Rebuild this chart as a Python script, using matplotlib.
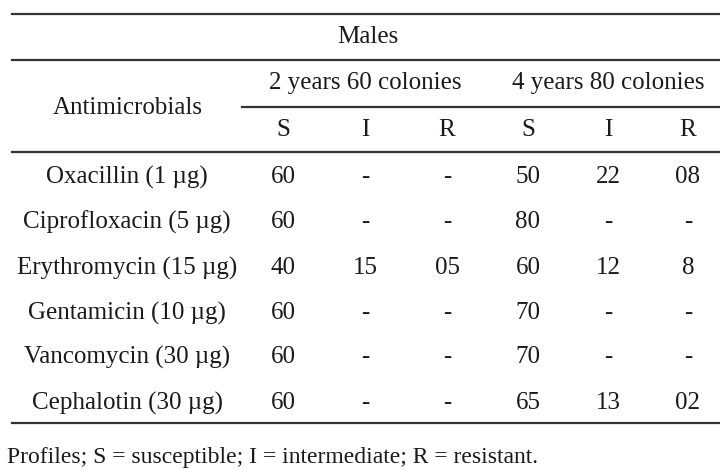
import matplotlib.pyplot as plt

plt.rcParams['font.family'] = ['Liberation Serif', 'DejaVu Serif']

group_title = "Males"
group_labels = ["2 years 60 colonies", "4 years 80 colonies"]
profiles = ["S", "I", "R"]
drugs = ["Oxacillin (1 \u00b5g)", "Ciprofloxacin (5 \u00b5g)", "Erythromycin (15 \u00b5g)",
         "Gentamicin (10 \u00b5g)", "Vancomycin (30 \u00b5g)", "Cephalotin (30 \u00b5g)"]
years2 = [["60", "-", "-"], ["60", "-", "-"], ["40", "15", "05"],
          ["60", "-", "-"], ["60", "-", "-"], ["60", "-", "-"]]
years4 = [["50", "22", "08"], ["80", "-", "-"], ["60", "12", "8"],
          ["70", "-", "-"], ["70", "-", "-"], ["65", "13", "02"]]
footnote = "Profiles; S = susceptible; I = intermediate; R = resistant."

fig = plt.figure(figsize=(7.2, 4.7), dpi=100)
ax = fig.add_axes([0, 0, 1, 1])
ax.set_xlim(0, 720)
ax.set_ylim(470, 0)
ax.axis('off')

fs = 18
col_x = [283, 365, 447, 528, 608, 688]
row_y = [177, 222, 268, 313, 357, 403]
txt = '#1a1a1a'
line_kw = dict(color='#333333', lw=1.6)

# rules
for y in [14, 60, 152, 423]:
    ax.plot([12, 720], [y, y], **line_kw)
ax.plot([242, 720], [107, 107], **line_kw)

# header
ax.text(368, 37, group_title, ha='center', va='center', fontsize=fs, color=txt)
ax.text(128, 108, "Antimicrobials", ha='center', va='center', fontsize=fs, color=txt)
for i, g in enumerate(group_labels):
    ax.text(col_x[3 * i + 1], 83, g, ha='center', va='center', fontsize=fs, color=txt)
for i in range(6):
    ax.text(col_x[i], 130, profiles[i % 3], ha='center', va='center', fontsize=fs, color=txt)

# body
for r, name in enumerate(drugs):
    ax.text(127, row_y[r], name, ha='center', va='center', fontsize=fs, color=txt)
    vals = years2[r] + years4[r]
    for c, v in enumerate(vals):
        ax.text(col_x[c], row_y[r], v, ha='center', va='center', fontsize=fs, color=txt)

ax.text(7, 457, footnote, ha='left', va='center', fontsize=17, color=txt)

fig.savefig('out.png', dpi=100, facecolor='white')
